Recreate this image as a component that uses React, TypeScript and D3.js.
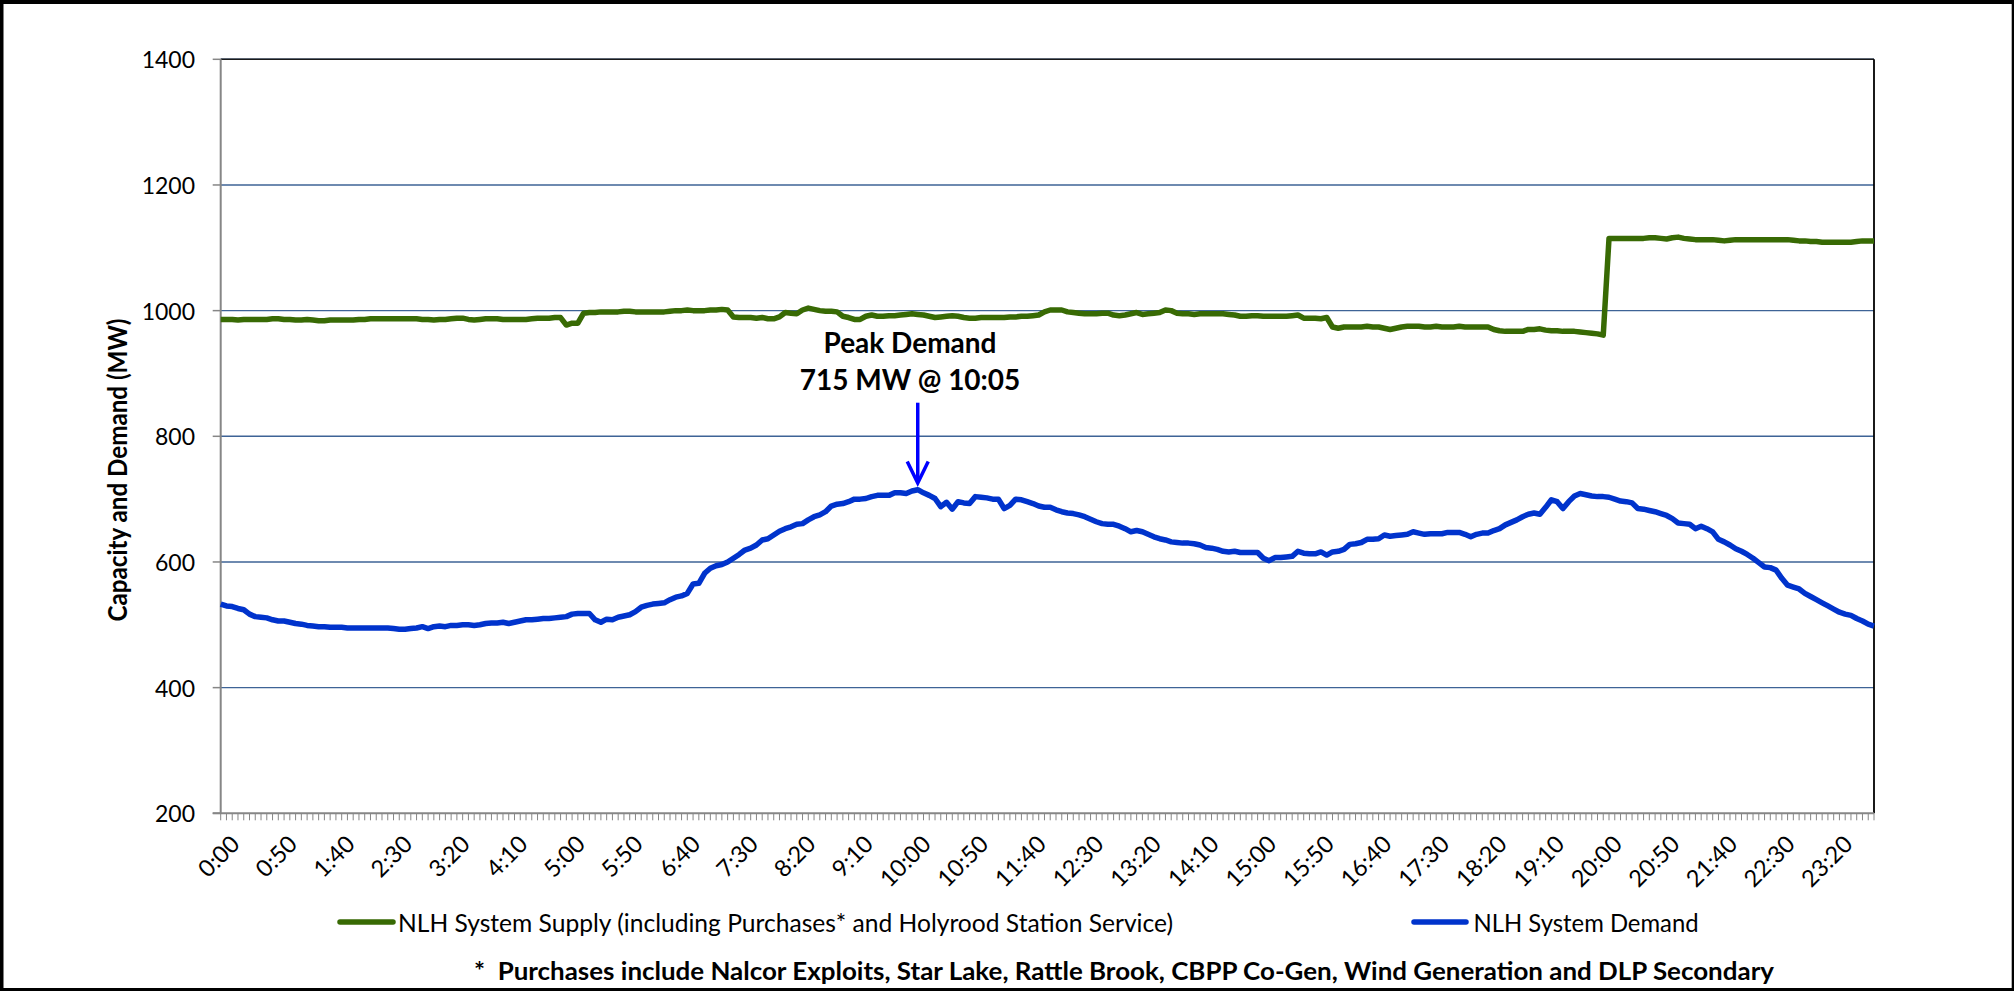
import React from "react";
import * as d3 from "d3";

// 5-minute categories for the day, 0:00 .. 23:55
const times = d3.range(288).map(
  (i) => `${Math.floor((i * 5) / 60)}:${String((i * 5) % 60).padStart(2, "0")}`
);

const xLabels = [
  "0:00", "0:50", "1:40", "2:30", "3:20", "4:10", "5:00", "5:50", "6:40", "7:30",
  "8:20", "9:10", "10:00", "10:50", "11:40", "12:30", "13:20", "14:10", "15:00",
  "15:50", "16:40", "17:30", "18:20", "19:10", "20:00", "20:50", "21:40", "22:30", "23:20",
];

const yTicks = [200, 400, 600, 800, 1000, 1200, 1400];

// NLH System Supply (MW)
const supply = [
  986, 986, 986, 985, 986, 986, 986, 986, 986, 987,
  987, 986, 986, 985, 985, 986, 985, 984, 984, 985,
  985, 985, 985, 985, 986, 986, 987, 987, 987, 987,
  987, 987, 987, 987, 987, 986, 986, 985, 986, 986,
  987, 988, 988, 986, 985, 986, 987, 987, 987, 986,
  986, 986, 986, 986, 987, 988, 988, 988, 989, 989,
  977, 980, 980, 996, 997, 997, 998, 998, 998, 998,
  999, 999, 998, 998, 998, 998, 998, 998, 999, 1000,
  1000, 1001, 1000, 1000, 1000, 1001, 1001, 1002, 1001, 990,
  989, 989, 989, 988, 989, 987, 987, 990, 997, 996,
  995, 1001, 1004, 1002, 1000, 999, 999, 998, 991, 989,
  986, 986, 991, 993, 991, 991, 992, 992, 993, 994,
  995, 994, 993, 991, 989, 990, 991, 992, 991, 989,
  988, 988, 989, 989, 989, 989, 989, 990, 990, 991,
  991, 992, 993, 998, 1001, 1001, 1001, 998, 997, 996,
  995, 995, 995, 996, 996, 993, 992, 993, 995, 997,
  994, 995, 996, 997, 1001, 1000, 996, 995, 995, 994,
  995, 995, 995, 995, 995, 994, 993, 991, 991, 992,
  992, 991, 991, 991, 991, 991, 992, 993, 988, 988,
  988, 987, 989, 974, 972, 974, 974, 974, 974, 975,
  974, 974, 972, 970, 972, 974, 975, 975, 975, 974,
  974, 975, 974, 974, 974, 975, 974, 974, 974, 974,
  974, 970, 968, 967, 967, 967, 967, 970, 970, 971,
  969, 968, 968, 967, 967, 967, 966, 965, 964, 963,
  961, 1115, 1115, 1115, 1115, 1115, 1115, 1115, 1116, 1116,
  1115, 1114, 1116, 1117, 1115, 1114, 1113, 1113, 1113, 1113,
  1112, 1111, 1112, 1113, 1113, 1113, 1113, 1113, 1113, 1113,
  1113, 1113, 1113, 1112, 1111, 1111, 1110, 1110, 1109, 1109,
  1109, 1109, 1109, 1109, 1110, 1111, 1111, 1111,
];

// NLH System Demand (MW)
const demand = [
  533, 530, 529, 526, 524, 517, 513, 512, 511, 508,
  506, 506, 504, 502, 501, 499, 498, 497, 497, 496,
  496, 496, 495, 495, 495, 495, 495, 495, 495, 495,
  494, 493, 493, 494, 495, 497, 494, 497, 498, 497,
  499, 499, 500, 500, 499, 500, 502, 503, 503, 504,
  502, 504, 506, 508, 508, 509, 510, 510, 511, 512,
  513, 517, 518, 518, 518, 508, 504, 509, 508, 512,
  514, 516, 521, 528, 531, 533, 534, 535, 540, 544,
  546, 550, 565, 566, 582, 590, 594, 596, 600, 606,
  612, 619, 622, 627, 635, 637, 643, 649, 653, 656,
  660, 661, 667, 672, 675, 680, 689, 692, 693, 696,
  700, 700, 701, 704, 706, 706, 706, 710, 710, 709,
  713, 715, 710, 706, 701, 688, 695, 684, 696, 694,
  693, 704, 703, 702, 700, 700, 685, 690, 700, 699,
  696, 693, 689, 687, 687, 683, 680, 678, 677, 675,
  672, 668, 664, 661, 660, 660, 657, 653, 648, 650,
  648, 644, 640, 637, 635, 632, 631, 630, 630, 629,
  627, 623, 622, 620, 617, 616, 617, 615, 615, 615,
  615, 606, 602, 607, 607, 608, 609, 617, 614, 613,
  613, 616, 611, 616, 617, 620, 628, 629, 631, 636,
  636, 637, 643, 641, 642, 643, 644, 648, 646, 644,
  645, 645, 645, 647, 647, 647, 644, 640, 644, 646,
  646, 650, 653, 659, 663, 667, 672, 676, 678, 676,
  687, 699, 696, 685, 696, 705, 709, 707, 705, 704,
  704, 703, 700, 697, 696, 694, 685, 684, 682, 680,
  677, 674, 669, 662, 661, 660, 653, 657, 653, 648,
  636, 632, 627, 621, 617, 612, 606, 599, 592, 591,
  587, 574, 563, 560, 557, 550, 545, 540, 535, 530,
  525, 520, 517, 515, 510, 506, 501, 498,
];

const peakTime = "10:05";

const W = 2014;
const H = 991;
const PL = 220.7;
const PR = 1874;
const PT = 59.3;
const PB = 813.3;

const FONT = "Lato, 'Open Sans', sans-serif";
const GREEN = "#386A04";
const BLUE = "#0033CC";

export default function App() {
  const x = d3.scalePoint<string>().domain(times).range([PL, PR]);
  const y = d3.scaleLinear().domain([200, 1400]).range([PB, PT]);

  const line = d3
    .line<number>()
    .x((_, i) => x(times[i]) as number)
    .y((d) => y(d));

  const px = x(peakTime) as number;

  return (
    <div style={{ position: "fixed", left: 0, top: 0 }}>
      <svg width={W} height={H} style={{ display: "block" }}>
        {/* frame */}
        <rect x={0} y={0} width={W} height={H} fill="#000" />
        <rect x={3.5} y={4} width={2011.7 - 3.5} height={984} fill="#fff" />

        {/* gridlines */}
        {yTicks.slice(1).map((t) => (
          <line key={t} x1={PL} x2={PR} y1={y(t)} y2={y(t)} stroke="#3E6396" strokeWidth={1.4} />
        ))}
        {/* top and right border */}
        <line x1={PL} x2={PR} y1={PT} y2={PT} stroke="#1a1a1a" strokeWidth={1.4} />
        <line x1={PR} x2={PR} y1={PT} y2={PB} stroke="#000" strokeWidth={1.8} />

        {/* axes */}
        <line x1={PL} x2={PL} y1={PT} y2={PB} stroke="#868686" strokeWidth={2} />
        <line x1={PL - 8} x2={PR} y1={PB} y2={PB} stroke="#868686" strokeWidth={2} />
        {yTicks.map((t) => (
          <g key={t}>
            <line x1={PL - 8} x2={PL} y1={y(t)} y2={y(t)} stroke="#868686" strokeWidth={1.5} />
            <text
              x={195}
              y={y(t)}
              textAnchor="end"
              dominantBaseline="central"
              fontFamily={FONT}
              fontSize={23}
              fill="#000"
            >
              {t}
            </text>
          </g>
        ))}
        {times.map((t) => (
          <line
            key={t}
            x1={x(t)}
            x2={x(t)}
            y1={PB}
            y2={PB + 7}
            stroke="#868686"
            strokeWidth={1}
          />
        ))}
        {xLabels.map((t) => (
          <text
            key={t}
            transform={`translate(${(x(t) as number) + 14},${PB + 26}) rotate(-45)`}
            textAnchor="end"
            dominantBaseline="central"
            fontFamily={FONT}
            fontSize={23.5}
            fill="#000"
          >
            {t}
          </text>
        ))}

        {/* y axis title */}
        <text
          transform={`translate(116,470) rotate(-90)`}
          textAnchor="middle"
          dominantBaseline="central"
          fontFamily={FONT}
          fontWeight="bold"
          fontSize={27}
          textLength={303}
          lengthAdjust="spacingAndGlyphs"
        >
          Capacity and Demand (MW)
        </text>

        {/* series */}
        <path d={line(supply) ?? ""} fill="none" stroke={GREEN} strokeWidth={5.5} strokeLinejoin="round" />
        <path d={line(demand) ?? ""} fill="none" stroke={BLUE} strokeWidth={5.5} strokeLinejoin="round" />

        {/* peak annotation */}
        <text x={910} y={353} textAnchor="middle" fontFamily={FONT} fontWeight="bold" fontSize={28}>
          Peak Demand
        </text>
        <text x={910} y={390} textAnchor="middle" fontFamily={FONT} fontWeight="bold" fontSize={28}>
          715 MW @ 10:05
        </text>
        <line x1={px} x2={px} y1={402.7} y2={481} stroke="#0000FF" strokeWidth={3.5} />
        <polyline
          points={`${px - 10.5},${461.5} ${px},${483} ${px + 10.5},${461.5}`}
          fill="none"
          stroke="#0000FF"
          strokeWidth={3.5}
        />

        {/* legend */}
        <line x1={340} x2={393} y1={922} y2={922} stroke={GREEN} strokeWidth={5.5} strokeLinecap="round" />
        <text
          x={398}
          y={922}
          dominantBaseline="central"
          fontFamily={FONT}
          fontSize={25}
          textLength={775}
          lengthAdjust="spacingAndGlyphs"
        >
          NLH System Supply (including Purchases* and Holyrood Station Service)
        </text>
        <line x1={1414} x2={1466} y1={922} y2={922} stroke={BLUE} strokeWidth={5.5} strokeLinecap="round" />
        <text
          x={1473.6}
          y={922}
          dominantBaseline="central"
          fontFamily={FONT}
          fontSize={25}
          textLength={225}
          lengthAdjust="spacingAndGlyphs"
        >
          NLH System Demand
        </text>

        {/* footnote */}
        <text
          x={474}
          y={970}
          dominantBaseline="central"
          fontFamily={FONT}
          fontWeight="bold"
          fontSize={25}
          textLength={1300}
          lengthAdjust="spacingAndGlyphs"
          style={{ whiteSpace: "pre" }}
        >
          {"*  Purchases include Nalcor Exploits, Star Lake, Rattle Brook, CBPP Co-Gen, Wind Generation and DLP Secondary"}
        </text>
      </svg>
    </div>
  );
}
